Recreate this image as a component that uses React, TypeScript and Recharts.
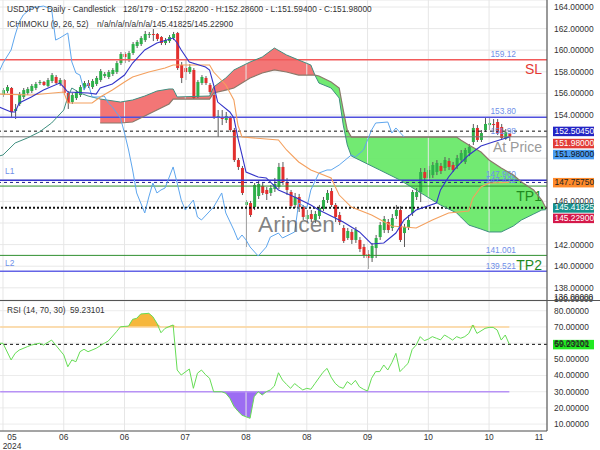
import React from "react";
import {
  ComposedChart,
  Line,
  Area,
  Bar,
  XAxis,
  YAxis,
  CartesianGrid,
  ReferenceLine,
} from "recharts";

const FONT = "'Liberation Sans', Arial, sans-serif";

// daily candles, bar index 0..125
const cOpen = [
  155.85, 156.22, 156.5, 154.37, 155.02, 155.67, 156.04, 156.22, 156.5, 156.96,
  157.06, 156.69, 157.15, 157.52, 156.87, 157.24, 156.04, 155.2, 155.57, 155.85,
  156.5, 156.96, 156.59, 156.87, 157.24, 157.61, 157.52, 157.8, 157.98, 158.81,
  159.65, 159.09, 159.74, 160.39, 160.57, 160.94, 161.41, 161.5, 161.5, 161.22,
  160.67, 160.85, 161.13, 161.59, 158.63, 158.35, 157.98, 158.17, 155.67, 156.96,
  157.43, 156.78, 155.85, 153.81, 153.81, 153.54, 153.72, 152.61, 149.83, 149.09,
  145.67, 145.85, 145.48, 146.5, 147.43, 147.06, 146.78, 147.15, 147.33, 149.19,
  147.8, 146.87, 145.67, 146.41, 145.48, 144.37, 144.83, 144.28, 144.65, 145.3,
  146.13, 146.96, 145.67, 144.74, 143.54, 142.61, 143.17, 142.43, 142.43, 141.78,
  141.13, 140.76, 141.68, 142.7, 143.35, 144.09, 143.54, 144.65, 145.2, 143.07,
  143.63, 144.93, 146.41, 146.87, 148.72, 148.17, 148.44, 148.72, 149.28, 149.09,
  149.74, 149.37, 149.28, 149.83, 149.65, 150.48, 151.5, 152.8, 151.69, 152.61,
  153.07, 153.17, 153.35, 152.89, 151.8, 152.282,
];
const cHigh = [
  156.5, 156.78, 156.59, 155.02, 156.13, 156.5, 156.59, 156.87, 157.06, 157.24,
  157.15, 157.43, 157.89, 157.7, 157.43, 157.33, 156.22, 156.04, 156.31, 156.78,
  157.15, 157.24, 157.33, 157.61, 158.26, 157.98, 158.17, 158.35, 159.0, 159.83,
  159.83, 159.93, 160.76, 160.94, 161.31, 161.78, 161.69, 161.96, 161.59, 161.31,
  161.13, 161.41, 161.69, 161.69, 158.91, 159.09, 158.72, 158.35, 157.24, 157.7,
  157.61, 156.96, 156.04, 154.46, 154.46, 154.28, 153.91, 152.8, 150.02, 149.28,
  146.13, 146.04, 147.7, 147.98, 147.7, 147.33, 147.52, 148.17, 149.56, 149.65,
  148.17, 147.06, 146.78, 146.69, 145.67, 145.2, 145.2, 145.11, 145.67, 146.41,
  147.06, 147.24, 145.85, 145.02, 143.81, 143.54, 143.44, 143.63, 142.7, 142.06,
  141.5, 142.15, 142.89, 144.09, 144.65, 144.37, 144.83, 145.67, 145.57, 143.91,
  144.74, 147.06, 147.24, 149.09, 149.09, 149.28, 149.65, 149.83, 149.56, 150.11,
  150.02, 149.65, 150.3, 150.76, 150.95, 151.32, 153.17, 153.07, 152.61, 153.72,
  153.8, 153.63, 153.63, 153.17, 152.7, 152.286,
];
const cLow = [
  155.67, 156.04, 153.72, 153.63, 154.83, 155.48, 155.85, 156.04, 156.31, 156.78,
  156.69, 156.59, 156.96, 156.87, 156.69, 155.85, 154.56, 155.02, 155.39, 155.67,
  156.31, 156.5, 156.41, 156.69, 157.06, 157.43, 157.33, 157.61, 157.8, 158.63,
  158.81, 158.91, 159.56, 160.2, 160.39, 160.76, 161.13, 160.85, 160.85, 160.48,
  160.48, 160.67, 160.94, 158.17, 156.96, 157.24, 157.8, 155.48, 155.57, 156.78,
  156.78, 155.94, 153.63, 151.96, 153.07, 153.26, 152.43, 149.65, 148.91, 146.59,
  141.78, 144.56, 145.2, 146.22, 146.59, 146.13, 146.5, 146.87, 147.15, 147.52,
  146.59, 145.39, 145.39, 145.02, 144.28, 144.09, 144.09, 144.0, 144.37, 145.11,
  145.85, 145.48, 144.09, 143.81, 142.15, 142.43, 142.06, 142.15, 141.31, 140.76,
  139.74, 140.39, 140.76, 142.43, 143.07, 143.07, 143.26, 144.37, 142.24, 141.78,
  143.35, 144.65, 146.13, 145.94, 147.7, 147.89, 148.17, 148.44, 148.54, 148.82,
  148.91, 148.72, 149.0, 149.56, 149.46, 150.2, 151.22, 151.5, 151.5, 152.43,
  152.61, 152.43, 152.15, 151.69, 151.7, 151.594,
];
const cClose = [
  156.31, 156.59, 154.28, 154.56, 155.94, 156.31, 156.41, 156.69, 156.87, 157.06,
  156.78, 157.24, 157.7, 156.96, 157.24, 156.04, 155.11, 155.85, 156.13, 156.59,
  156.96, 156.69, 157.15, 157.43, 158.07, 157.8, 157.98, 158.17, 158.81, 159.65,
  159.37, 159.74, 160.57, 160.76, 161.13, 161.5, 161.5, 161.41, 161.04, 160.67,
  160.94, 161.22, 161.5, 158.35, 157.43, 157.98, 158.44, 155.57, 157.06, 157.52,
  156.96, 156.13, 153.72, 153.91, 153.63, 153.91, 152.61, 149.83, 149.19, 146.78,
  145.94, 144.74, 147.52, 147.61, 146.78, 146.69, 147.24, 147.61, 149.19, 147.8,
  147.06, 145.57, 146.41, 145.48, 144.56, 144.74, 144.37, 144.83, 145.39, 146.13,
  146.78, 145.67, 144.56, 144.09, 142.33, 143.26, 142.43, 143.35, 141.59, 141.04,
  140.76, 141.87, 142.61, 143.81, 144.37, 143.35, 144.46, 145.2, 142.43, 143.63,
  144.28, 146.87, 146.87, 148.72, 148.17, 148.91, 149.37, 149.56, 148.82, 149.83,
  149.19, 148.91, 150.02, 150.48, 150.76, 151.04, 152.8, 151.69, 152.33, 153.17,
  153.26, 153.07, 152.33, 151.87, 152.4, 151.98,
];

// ichimoku lines (bar index -> price)
const tenkanIdx = [-1, 2, 3, 4, 7, 10, 14, 15, 16, 21, 23, 24, 27, 30, 32, 35, 38, 42, 43, 44, 46, 50, 51, 52, 53, 56, 57, 58, 59, 60, 63, 65, 68, 72, 76, 78, 81, 84, 88, 91, 94, 97, 99, 102, 107, 108, 110, 112, 115, 118, 121, 125];
const tenkanVal = [154.74, 154.28, 154.28, 155.11, 155.67, 156.31, 156.96, 156.59, 156.13, 156.04, 155.94, 156.5, 156.87, 157.7, 158.81, 160.02, 160.67, 161.13, 160.67, 160.02, 158.91, 158.44, 158.17, 156.78, 155.2, 154.28, 153.72, 151.87, 150.3, 148.72, 148.26, 148.17, 147.06, 146.41, 145.67, 145.2, 144.65, 144.09, 143.17, 142.06, 142.15, 143.07, 144.28, 145.2, 145.85, 147.06, 148.26, 149.19, 150.3, 151.13, 151.5, 151.96];

const kijunIdx = [-1, 7, 15, 16, 22, 24, 27, 30, 32, 36, 40, 42, 51, 52, 55, 57, 58, 59, 68, 70, 73, 76, 81, 83, 86, 91, 96, 102, 106, 110, 115, 116, 118, 120, 125];
const kijunVal = [155.94, 155.85, 156.13, 155.11, 155.11, 155.67, 156.31, 157.06, 157.52, 157.98, 158.35, 158.63, 158.63, 157.98, 156.78, 155.39, 153.07, 151.96, 151.69, 150.76, 149.65, 148.91, 148.17, 146.59, 145.48, 144.74, 143.72, 143.54, 144.28, 144.93, 145.11, 146.32, 147.33, 147.7, 147.76];

const laggingIdx = [-1, 0, 2, 3, 4, 5, 7, 10, 12, 13, 14, 16, 17, 18, 19, 20, 21, 22, 24, 25, 26, 27, 29, 30, 31, 32, 33, 35, 36, 37, 38, 39, 40, 42, 43, 44, 45, 47, 48, 49, 52, 54, 55, 57, 58, 59, 60, 61, 63, 65, 66, 68, 69, 72, 73, 75, 76, 78, 80, 81, 83, 86, 87, 89, 91, 92, 95, 96, 97, 99];
const laggingVal = [157.98, 158.81, 160.02, 161.41, 162.61, 163.26, 163.91, 164.09, 163.81, 160.94, 161.13, 161.59, 158.91, 157.89, 157.7, 156.31, 156.96, 155.67, 155.67, 155.76, 155.11, 154.74, 153.72, 152.33, 150.76, 148.91, 146.78, 144.93, 146.41, 147.7, 146.78, 147.06, 147.24, 149.19, 147.7, 146.13, 145.2, 146.13, 144.56, 144.28, 145.48, 146.78, 144.93, 143.35, 142.43, 142.89, 142.43, 141.78, 140.94, 141.78, 142.7, 143.07, 142.61, 143.17, 145.85, 145.39, 147.06, 148.63, 148.91, 148.91, 149.37, 150.3, 150.11, 150.76, 152.61, 153.26, 153.35, 152.33, 152.8, 151.98];

// span A before the cloud starts
const spanALeadIdx = [-1, 0, 3, 6, 9, 12, 15, 16, 17, 19, 21];
const spanALeadVal = [150.2, 150.3, 151.41, 151.87, 152.43, 153.26, 154.46, 155.67, 156.5, 156.04, 155.76];

const cloudIdx = [24, 29, 32, 35, 38, 41, 42, 43, 51, 52, 55, 57, 61, 64, 67, 70, 73, 76, 77, 78, 81, 83, 84, 85, 86, 88, 93, 98, 104, 108, 112, 113, 115, 118, 120, 123, 126, 128, 131, 133, 134];
const spanA = [155.48, 155.2, 155.39, 155.76, 156.22, 156.41, 156.41, 155.67, 155.76, 156.59, 157.43, 158.17, 158.91, 159.37, 160.2, 159.56, 159.09, 158.63, 157.7, 156.96, 156.5, 155.57, 153.07, 151.22, 150.2, 149.83, 148.91, 147.98, 146.59, 145.67, 144.93, 144.56, 143.81, 143.44, 143.17, 143.17, 143.72, 144.28, 144.83, 145.2, 145.23];
const spanB = [153.26, 153.26, 153.35, 153.91, 154.46, 155.02, 155.48, 155.48, 155.48, 156.04, 156.31, 156.5, 157.43, 157.89, 158.17, 157.98, 157.7, 157.7, 157.7, 157.61, 157.06, 156.5, 154.46, 152.61, 151.96, 151.96, 151.96, 151.96, 151.96, 151.96, 151.96, 151.68, 151.22, 150.57, 149.83, 149.09, 148.44, 147.8, 147.06, 146.13, 145.42];
const CLOUD_FLIP = 77; // A above B (red) before this bar, B above A (green) after

// RSI(14)
const rsiIdx = [-1, 0, 2, 3, 4, 6, 7, 9, 10, 12, 13, 15, 16, 17, 18, 19, 20, 21, 23, 25, 26, 28, 29, 31, 32, 33, 34, 36, 37, 38, 39, 40, 42, 43, 44, 46, 47, 48, 49, 50, 51, 52, 54, 55, 56, 57, 58, 59, 60, 61, 62, 63, 64, 65, 66, 67, 68, 69, 70, 71, 72, 73, 74, 75, 76, 77, 78, 79, 80, 81, 82, 83, 84, 85, 86, 87, 88, 89, 90, 91, 92, 93, 94, 95, 96, 97, 98, 99, 100, 101, 102, 103, 104, 105, 106, 107, 108, 109, 110, 111, 112, 113, 114, 115, 116, 117, 118, 119, 120, 121, 122, 123, 124, 125];
const rsiVal = [59.9, 59.9, 49.6, 53.7, 55.7, 57.8, 58.8, 59.9, 58.8, 61.9, 58.8, 52.7, 45.4, 49.6, 48.5, 54.7, 56.2, 54.7, 56.8, 59.9, 61.3, 67.0, 70.1, 70.5, 74.7, 75.3, 78.0, 78.4, 76.3, 72.2, 66.4, 69.1, 71.2, 43.4, 40.3, 44.0, 32.1, 41.4, 43.4, 40.5, 38.3, 30.0, 30.0, 29.0, 26.0, 21.0, 18.0, 15.5, 14.5, 13.6, 26.9, 30.0, 28.0, 30.0, 31.1, 33.5, 41.7, 37.2, 34.5, 32.1, 35.0, 33.0, 31.1, 32.1, 31.5, 35.0, 38.5, 42.0, 44.4, 39.0, 35.2, 33.0, 32.1, 36.2, 34.3, 37.0, 33.0, 31.5, 30.4, 38.3, 42.4, 42.4, 46.5, 43.4, 48.0, 53.7, 42.4, 45.0, 47.5, 56.0, 58.8, 64.0, 61.5, 62.5, 64.0, 63.0, 62.0, 65.0, 63.5, 61.9, 64.0, 63.0, 64.0, 66.0, 71.2, 66.0, 67.5, 69.1, 69.7, 69.7, 68.1, 61.9, 65.0, 59.23];

const monthTicks = [0, 15, 30, 45, 60, 75, 90, 105, 120, 133];
const monthLabels = ["05", "06", "06", "07", "08", "08", "09", "10", "10", "11"];
const priceTicks = [138, 140, 142, 144, 146, 148, 150, 152, 154, 156, 158, 160, 162, 164];
const coveredTicks = [144, 148, 150, 152]; // sit under the price boxes
const rsiTicks = [10, 20, 30, 40, 50, 60, 70, 80];
const gridIdx = [0, 15, 30, 45, 60, 75, 90, 105, 120];

const X_DOMAIN = [-0.74, 134.3];

// one row per bar slot (-1 .. 134), every series put on its own bar
const table: Record<number, any> = {};
const row = (i: number) => (table[i] = table[i] || { i });
cOpen.forEach((o, i) => Object.assign(row(i), { o, h: cHigh[i], l: cLow[i], c: cClose[i] }));
tenkanIdx.forEach((i, k) => (row(i).tenkan = tenkanVal[k]));
kijunIdx.forEach((i, k) => (row(i).kijun = kijunVal[k]));
laggingIdx.forEach((i, k) => (row(i).lag = laggingVal[k]));
spanALeadIdx.forEach((i, k) => (row(i).spanA = spanALeadVal[k]));
cloudIdx.forEach((i, k) => {
  const r = row(i);
  r.spanA = spanA[k];
  r.spanB = spanB[k];
  const band = [Math.min(spanA[k], spanB[k]), Math.max(spanA[k], spanB[k])];
  if (i <= CLOUD_FLIP) r.red = band;
  if (i >= CLOUD_FLIP) r.green = band;
});
const mainRows = Object.values(table).sort((a: any, b: any) => a.i - b.i);

const rsiRows = rsiIdx.map((i, k) => ({
  i,
  v: rsiVal[k],
  ob: [70, Math.max(70, rsiVal[k])],
  os: [Math.min(30, rsiVal[k]), 30],
}));

function Candle(props: any) {
  const { x, y, width, height, payload } = props;
  if (!payload || payload.o == null) return null;
  const { o, h, l, c } = payload;
  const top = Math.min(y, y + height);
  const hh = Math.abs(height);
  const k = hh / (h - l || 1);
  const cx = x + width / 2;
  const yo = top + (h - o) * k;
  const yc = top + (h - c) * k;
  const col = c >= o ? "#2eaf4a" : "#e2302e";
  const bt = Math.min(yo, yc);
  const bh = Math.max(1, Math.abs(yo - yc));
  return (
    <g>
      <line x1={cx} x2={cx} y1={top} y2={top + hh} stroke="#5a5a5a" strokeWidth={1} />
      <rect x={cx - 1.5} y={bt} width={3} height={bh} fill={col} />
    </g>
  );
}

// text tags that sit on the level lines
function LineTag(props: any) {
  const { viewBox, text, color, big, bigColor, side } = props;
  if (!viewBox) return null;
  const right = viewBox.x + viewBox.width;
  const y = viewBox.y;
  return (
    <g fontFamily={FONT}>
      {text && (
        <text x={right - 31} y={y - 5} textAnchor="end" dominantBaseline="middle" fontSize={8.4} fill={color}>
          {text}
        </text>
      )}
      {big && (
        <text x={right - 5} y={y + 11} textAnchor="end" dominantBaseline="middle" fontSize={14} fill={bigColor}>
          {big}
        </text>
      )}
      {side && (
        <text x={viewBox.x + 5} y={y - 8} dominantBaseline="middle" fontSize={8.4} fill={color}>
          {side}
        </text>
      )}
    </g>
  );
}

function PriceBox(props: any) {
  const { viewBox, text, bg, fg, dy = 0 } = props;
  if (!viewBox) return null;
  const x = viewBox.x + viewBox.width + 6;
  const y = viewBox.y + dy;
  return (
    <g>
      <rect x={x} y={y - 4.5} width={41} height={9.5} fill={bg} />
      <text x={x + 1.5} y={y + 0.5} dominantBaseline="middle" fontSize={8.4} fill={fg} fontFamily={FONT}>
        {text}
      </text>
    </g>
  );
}

function MonthTick(props: any) {
  const { x, y, payload } = props;
  const k = monthTicks.indexOf(payload.value);
  const lx = Math.min(Math.max(x, 12), 539);
  return (
    <g fontFamily={FONT} fontSize={8.4} fill="#333">
      <text x={lx} y={y} dy="0.71em" textAnchor="middle">
        {monthLabels[k]}
      </text>
      {k === 0 && (
        <text x={lx} y={y + 9} dy="0.71em" textAnchor="middle">
          2024
        </text>
      )}
    </g>
  );
}

const tickStyle = { fontSize: 8.4, fill: "#333", fontFamily: FONT };
const lineProps = { dot: false, activeDot: false, connectNulls: true, isAnimationActive: false } as const;

export default function App() {
  return (
    <div style={{ position: "absolute", left: 0, top: 0, width: 600, height: 450, background: "#fff" }}>
      {/* price panel */}
      <ComposedChart width={600} height={300} data={mainRows} margin={{ top: 0, right: 0, bottom: 0, left: 0 }}>
        <CartesianGrid vertical={false} stroke="#e8e8e8" />
        <XAxis dataKey="i" type="number" domain={X_DOMAIN} allowDataOverflow hide />
        <YAxis
          orientation="right"
          width={53}
          domain={[136.87, 164.65]}
          allowDataOverflow
          ticks={priceTicks}
          interval={0}
          tickFormatter={(v: number) => (coveredTicks.includes(v) ? "" : v.toFixed(5))}
          axisLine={{ stroke: "#555", strokeWidth: 1.2 }}
          tickLine={false}
          tickSize={5}
          tickMargin={2}
          tick={tickStyle}
        />
        {gridIdx.map((g) => (
          <ReferenceLine key={"g" + g} x={g} stroke="#e6e6e6" />
        ))}

        <Area dataKey="red" fill="#f26a6a" fillOpacity={0.92} stroke="none" {...lineProps} />
        <Area dataKey="green" fill="#66e866" fillOpacity={0.92} stroke="none" {...lineProps} />

        <ReferenceLine y={159.12} stroke="#f25a5a" strokeWidth={1.5} label={<LineTag text="159.12" color="#6f8fe8" big="SL" bigColor="#e53935" />} />
        <ReferenceLine y={153.8} stroke="#5050dd" strokeWidth={1.5} label={<LineTag text="153.80" color="#6f8fe8" />} />
        <ReferenceLine y={152.5045} stroke="#111" strokeDasharray="3 3" />
        <ReferenceLine y={151.98} stroke="#7a7a7a" label={<LineTag text="151.98" color="#6f8fe8" big="At Price" bigColor="#9a9a9a" />} />
        <ReferenceLine y={147.96} stroke="#3434cc" strokeWidth={1.5} label={<LineTag text="147.960" color="#6f8fe8" side="L1" />} />
        <ReferenceLine y={147.7575} stroke="#22228a" strokeDasharray="3 3" />
        <ReferenceLine y={147.42} stroke="#2f8f2f" label={<LineTag text="147.422" color="#6f8fe8" big="TP1" bigColor="#1f8a1f" />} />
        <ReferenceLine y={145.41825} stroke="#111" strokeWidth={2} strokeDasharray="2 2" />
        <ReferenceLine y={141.001} stroke="#2f8f2f" label={<LineTag text="141.001" color="#6f8fe8" big="TP2" bigColor="#1f8a1f" />} />
        <ReferenceLine y={139.521} stroke="#6464e6" strokeWidth={1.5} label={<LineTag text="139.521" color="#6f8fe8" side="L2" />} />

        <Line dataKey="spanA" stroke="#3f8f80" strokeWidth={1} {...lineProps} />
        <Line dataKey="spanB" stroke="#8a786a" strokeWidth={1.2} {...lineProps} />
        <Line dataKey="lag" stroke="#5ea6ee" strokeWidth={1} {...lineProps} />
        <Line dataKey="kijun" stroke="#f4a05e" strokeWidth={1.1} {...lineProps} />
        <Line dataKey="tenkan" stroke="#3434c8" strokeWidth={1.1} {...lineProps} />

        <Bar
          dataKey={(d: any) => (d.o == null ? null : [d.l, d.h])}
          barSize={3}
          shape={<Candle />}
          activeBar={false}
          isAnimationActive={false}
        />

        <ReferenceLine y={152.5045} stroke="none" label={<PriceBox text="152.50450" bg="#2424c4" fg="#fff" />} />
        <ReferenceLine y={151.98} stroke="none" label={<PriceBox text="151.98000" bg="#e23b36" fg="#fff" dy={6.5} />} />
        <ReferenceLine y={151.98} stroke="none" label={<PriceBox text="151.98000" bg="#4a9cf2" fg="#111" dy={17.5} />} />
        <ReferenceLine y={147.7575} stroke="none" label={<PriceBox text="147.75750" bg="#ff8a2a" fg="#222" />} />
        <ReferenceLine y={145.41825} stroke="none" label={<PriceBox text="145.41825" bg="#17908c" fg="#fff" />} />
        <ReferenceLine y={145.229} stroke="none" label={<PriceBox text="145.22900" bg="#d4194a" fg="#fff" dy={8.4} />} />
      </ComposedChart>

      {/* RSI panel */}
      <ComposedChart width={600} height={150} data={rsiRows} margin={{ top: 1, right: 0, bottom: 0, left: 0 }}>
        <CartesianGrid vertical={false} stroke="#ececec" />
        <XAxis
          dataKey="i"
          type="number"
          domain={X_DOMAIN}
          allowDataOverflow
          ticks={monthTicks}
          interval={0}
          height={19}
          axisLine={{ stroke: "#555", strokeWidth: 1.2 }}
          tickLine={false}
          tickSize={2}
          tickMargin={1}
          tick={<MonthTick />}
        />
        <YAxis
          orientation="right"
          width={53}
          domain={[5.74, 86]}
          allowDataOverflow
          ticks={rsiTicks}
          interval={0}
          tickFormatter={(v: number) => v.toFixed(5)}
          axisLine={{ stroke: "#555", strokeWidth: 1.2 }}
          tickLine={false}
          tickSize={5}
          tickMargin={2}
          tick={tickStyle}
        />
        {gridIdx.map((g) => (
          <ReferenceLine key={"r" + g} x={g} stroke="#e6e6e6" />
        ))}
        <Area dataKey="ob" fill="#f6b73c" fillOpacity={1} stroke="none" {...lineProps} />
        <Area dataKey="os" fill="#9c6df2" fillOpacity={1} stroke="none" {...lineProps} />
        <ReferenceLine segment={[{ x: -0.7, y: 70 }, { x: 125, y: 70 }]} stroke="#fdd49a" strokeWidth={1.5} />
        <ReferenceLine segment={[{ x: -0.7, y: 30 }, { x: 125, y: 30 }]} stroke="#b792f5" strokeWidth={1.5} />
        <ReferenceLine y={59.23101} stroke="#111" strokeDasharray="3 3" label={<PriceBox text="59.23101" bg="#22ea22" fg="#111" />} />
        <Line dataKey="v" stroke="#66dd55" strokeWidth={1} {...lineProps} />
      </ComposedChart>

      {/* headers, watermark, panel divider */}
      <svg width={600} height={450} style={{ position: "absolute", left: 0, top: 0, pointerEvents: "none" }} fontFamily={FONT}>
        <g fontSize={8.3} fill="#333" dominantBaseline="middle">
          <text x={7} y={10}>USDJPY - Daily - Candlestick</text>
          <text x={123} y={10}>126/179 - O:152.28200 - H:152.28600 - L:151.59400 - C:151.98000</text>
          <text x={7} y={25}>ICHIMOKU (9, 26, 52)</text>
          <text x={97} y={25}>n/a/n/a/n/a/n/a/145.41825/145.22900</text>
          <text x={7} y={311}>RSI (14, 70, 30)</text>
          <text x={70} y={311}>59.23101</text>
          <text x={554} y={298}>136.00000</text>
          <text x={554} y={300}>100.00000</text>
        </g>
        <text x={258} y={226} fontSize={22.7} fill="#5a5a5a" fillOpacity={0.75} dominantBaseline="middle">
          Arincen
        </text>
        <line x1={0} x2={600} y1={300.5} y2={300.5} stroke="#555" strokeWidth={1.2} />
      </svg>
    </div>
  );
}
